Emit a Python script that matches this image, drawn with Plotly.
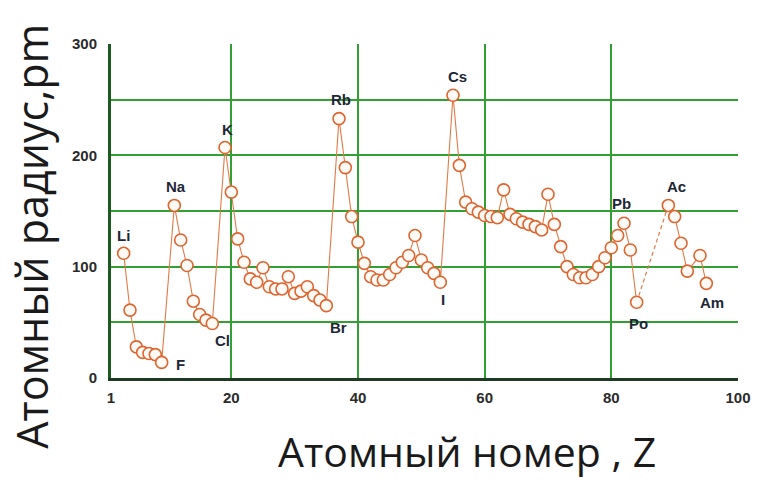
import plotly.graph_objects as go

# Atomic radius (pm) against atomic number; noble gases are not plotted.
atomic_number = [
    3, 4, 5, 6, 7, 8, 9,
    11, 12, 13, 14, 15, 16, 17,
    19, 20, 21, 22, 23, 24, 25, 26, 27, 28, 29, 30, 31, 32, 33, 34, 35,
    37, 38, 39, 40, 41, 42, 43, 44, 45, 46, 47, 48, 49, 50, 51, 52, 53,
    55, 56, 57, 58, 59, 60, 61, 62, 63, 64, 65, 66, 67, 68, 69, 70, 71,
    72, 73, 74, 75, 76, 77, 78, 79, 80, 81, 82, 83, 84,
]
radius_pm = [
    112, 61, 28, 23, 22, 21, 14,
    155, 124, 101, 69, 57, 52, 49,
    207, 167, 125, 104, 89, 86, 99, 82, 80, 80, 91, 76, 78, 82, 74, 70, 65,
    233, 189, 145, 122, 103, 91, 88, 88, 93, 99, 104, 110, 128, 106, 99, 94, 86,
    254, 191, 158, 152, 149, 146, 145, 144, 169, 147, 143, 140, 138, 136, 133, 165, 138,
    118, 100, 93, 90, 90, 93, 100, 108, 117, 128, 139, 115, 68,
]

# Actinide series, joined to Po by a dashed segment
actinide_number = [89, 90, 91, 92, 94, 95]
actinide_radius = [155, 145, 121, 96, 110, 85]

# Element symbols written next to selected points
label_names = ["Li", "F", "Na", "Cl", "K", "Br", "Rb", "I", "Cs", "Pb", "Po", "Ac", "Am"]
label_numbers = [3, 9, 11, 17, 19, 35, 37, 53, 55, 82, 84, 89, 95]

x_tick_values = [1, 20, 40, 60, 80, 100]
y_tick_values = [0, 50, 100, 150, 200, 250, 300]
y_tick_text = ["0", "", "100", "", "200", "", "300"]

# pixel offsets of each symbol from its point
label_offsets = {
    "Li": (0, 18), "F": (19, -2), "Na": (2, 19), "Cl": (10, -17), "K": (2, 18),
    "Br": (12, -22), "Rb": (2, 19), "I": (3, -17), "Cs": (4, 19), "Pb": (-3, 20),
    "Po": (2, -21), "Ac": (8, 19), "Am": (6, -19),
}

LINE_COLOR = "#e27a48"
MARKER_EDGE = "#e0642e"
MARKER_FILL = "#fffaf5"
GRID_GREEN = "#33a033"

all_z = atomic_number + actinide_number
all_r = radius_pm + actinide_radius
lookup = dict(zip(all_z, all_r))

marker_style = dict(size=12, color=MARKER_FILL, line=dict(color=MARKER_EDGE, width=1.6))

fig = go.Figure()

# dashed jump from Po to Ac
fig.add_trace(go.Scatter(
    x=[atomic_number[-1], actinide_number[0]],
    y=[radius_pm[-1], actinide_radius[0]],
    mode="lines",
    line=dict(color=LINE_COLOR, width=1.2, dash="4px,3px"),
    hoverinfo="skip",
))
fig.add_trace(go.Scatter(
    x=atomic_number, y=radius_pm,
    mode="lines+markers",
    line=dict(color=LINE_COLOR, width=1.1),
    marker=marker_style,
))
fig.add_trace(go.Scatter(
    x=actinide_number, y=actinide_radius,
    mode="lines+markers",
    line=dict(color=LINE_COLOR, width=1.1),
    marker=marker_style,
))

for name, z in zip(label_names, label_numbers):
    dx, dy = label_offsets[name]
    fig.add_annotation(
        x=z, y=lookup[z], text=name, showarrow=False,
        xshift=dx, yshift=dy,
        font=dict(family="Liberation Sans", size=15, color="#1e2736", weight="bold"),
    )

# axis titles
fig.add_annotation(
    xref="paper", yref="paper", x=-0.128, y=0.425,
    text="Атомный радиус,pm", textangle=-90, showarrow=False,
    xanchor="center", yanchor="middle",
    font=dict(family="Open Sans", size=43, color="#1a1a1a"),
)
fig.add_annotation(
    xref="paper", yref="paper", x=0.568, y=-0.219,
    text="Атомный номер , Z", showarrow=False,
    xanchor="center", yanchor="middle",
    font=dict(family="Open Sans", size=41, color="#1a1a1a"),
)

tick_font = dict(family="Liberation Sans", size=15, color="#2b2b2b", weight="bold")

fig.update_xaxes(
    range=[1, 100], tickvals=x_tick_values,
    showgrid=True, gridcolor=GRID_GREEN, gridwidth=2,
    showline=True, linecolor="#1f3a22", linewidth=3,
    zeroline=False, ticks="", tickfont=tick_font, ticklabelstandoff=4,
)
fig.update_yaxes(
    range=[0, 300], tickvals=y_tick_values, ticktext=y_tick_text,
    showgrid=True, gridcolor=GRID_GREEN, gridwidth=2,
    showline=True, linecolor="#1c5a22", linewidth=3,
    zeroline=False, ticks="", tickfont=tick_font, ticklabelstandoff=8,
)

fig.update_layout(
    width=763, height=480,
    margin=dict(l=111, r=23, t=44, b=102),
    paper_bgcolor="white", plot_bgcolor="white",
    showlegend=False,
)

fig.write_html("out.html")
